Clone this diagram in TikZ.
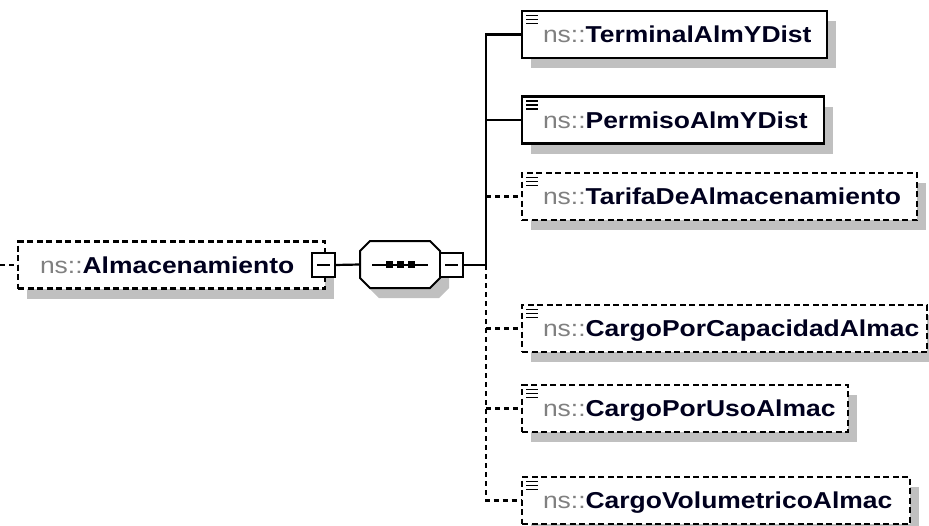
\documentclass[tikz,border=0pt]{standalone}
\usepackage{fontspec}
\newfontfamily\xsfont{Liberation Sans}[FakeStretch=1.15]
\usetikzlibrary{shadows}
\definecolor{shdcol}{RGB}{192,192,192}
\definecolor{nsgray}{RGB}{128,128,128}
\definecolor{nmcol}{RGB}{0,0,30}
\newcommand{\nsname}[1]{{\color{nsgray}ns::}{\bfseries\color{nmcol}#1}}
\begin{document}
\begin{tikzpicture}[x=1pt,y=-1pt,
  dropsh/.style={general shadow={fill=shdcol, shadow xshift=9pt, shadow yshift=-10pt}},
  elem/.style={rectangle, fill=white, draw=black, line width=2.2pt,
    minimum height=47pt, inner xsep=21pt, inner ysep=0pt, outer sep=0pt,
    align=left, anchor=west, text height=16pt, text depth=0pt,
    font=\xsfont\fontsize{23}{27}\selectfont, dropsh},
  req/.style={elem},
  opt/.style={elem, dash pattern=on 6pt off 3.5pt},
  conn/.style={line width=2.2pt},
  optconn/.style={line width=2.2pt, dash pattern=on 5pt off 4pt},
  minusbox/.style={rectangle, draw=black, fill=white, line width=2pt,
    minimum width=23pt, minimum height=24pt, inner sep=0pt, outer sep=0pt},
  icon/.style={line width=1.8pt}
]
\useasboundingbox (0,0) rectangle (929,525);

% main element
\node[opt, text width=263pt, inner xsep=22pt] (main) at (18,265) {\nsname{Almacenamiento}};
\node[minusbox] (mm) at (323.5,265) {};
\draw[line width=2pt] ([xshift=5pt]mm.west) -- ([xshift=-5pt]mm.east);

% sequence compositor
\node[minimum width=80pt, minimum height=47pt, inner sep=0pt, outer sep=0pt] (seq) at (400,264.5) {};
\draw[line width=2pt, fill=white, dropsh]
  ([shift={(10,0)}]seq.north west) -- ([shift={(-10,0)}]seq.north east)
  -- ([shift={(0,10)}]seq.north east) -- ([shift={(0,-10)}]seq.south east)
  -- ([shift={(-10,0)}]seq.south east) -- ([shift={(10,0)}]seq.south west)
  -- ([shift={(0,-10)}]seq.south west) -- ([shift={(0,10)}]seq.north west) -- cycle;
\draw[line width=2pt] ([xshift=12pt]seq.west) -- ([xshift=-12pt]seq.east);
\foreach \dx in {-11,0,11}
  \fill ([xshift=\dx pt]seq.center) +(-3.5,-3.5) rectangle +(3.5,3.5);
\node[minusbox] (sm) at (451.5,265) {};
\draw[line width=2pt] ([xshift=5pt]sm.west) -- ([xshift=-5pt]sm.east);

% children
\node[req, text width=263pt] (t1) at (522,34.5)  {\nsname{TerminalAlmYDist}};
\node[req, text width=260pt] (t2) at (522,120)   {\nsname{PermisoAlmYDist}};
\node[opt, text width=353pt] (t3) at (522,196.5) {\nsname{TarifaDeAlmacenamiento}};
\node[opt, text width=363pt] (t4) at (522,328.5) {\nsname{CargoPorCapacidadAlmac}};
\node[opt, text width=284pt] (t5) at (522,408.5) {\nsname{CargoPorUsoAlmac}};
\node[opt, text width=346pt] (t6) at (522,500.5) {\nsname{CargoVolumetricoAlmac}};

\foreach \n in {t1,t2,t3,t4,t5,t6}{
  \foreach \dy in {4.5,8.5,12.5}
    \draw[icon] ([shift={(4,\dy)}]\n.north west) -- ++(12,0);
}

% connectors
\coordinate (lft) at (0,265);
\coordinate (tr) at (486,265);
\draw[optconn] (lft) -- (main.west);
\draw[conn] (mm.east) -- (seq.west);
\draw[conn] (sm.east) -- (tr);
\draw[conn] (tr) |- (t1.west);
\draw[conn] (tr |- t2.west) -- (t2.west);
\draw[optconn] (tr |- t3.west) -- (t3.west);
\draw[optconn] (tr) |- (t6.west);
\draw[optconn] (tr |- t4.west) -- (t4.west);
\draw[optconn] (tr |- t5.west) -- (t5.west);
\end{tikzpicture}
\end{document}
